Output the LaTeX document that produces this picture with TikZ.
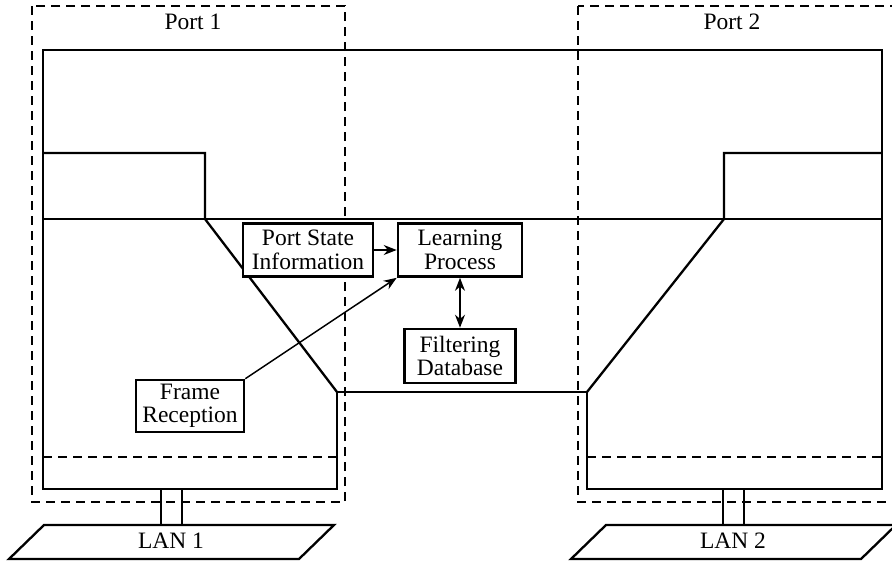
\documentclass[tikz,border=0pt]{standalone}
\usepackage{fontspec}
\setmainfont{Liberation Serif}
\usetikzlibrary{arrows.meta,positioning}

\begin{document}
\begin{tikzpicture}[
    x=1pt, y=-1pt,
    every node/.style={font=\fontsize{23.5}{23.5}\selectfont, align=center},
    block/.style={draw=black, line width=2.6pt, fill=white, minimum height=53pt, inner sep=0pt},
    edge/.style={draw=black, line width=2.3pt},
    thinline/.style={draw=black, line width=1.1pt},
    portbox/.style={draw=black, line width=1.5pt, dash pattern=on 9pt off 6pt},
    msg/.style={->, >={Stealth[length=13pt,width=10pt]}, draw=black, line width=1.5pt}
    ]
    \clip (0,0) rectangle (892,560);

    % port areas
    \draw[portbox] (32,6) rectangle (345,502);
    \draw[portbox] (578,6) rectangle (910,502);
    \node (port1) at (193,22) {Port 1};
    \node (port2) at (732,22) {Port 2};

    % bridge outline
    \draw[edge] (43,50) -- (882,50) -- (882,489) -- (587,489) -- (587,392) -- (337,392) -- (337,489) -- (43,489) -- cycle;
    \draw[edge] (43,153) -- (205,153) -- (205,219) -- (337,392);
    \draw[edge] (882,153) -- (724,153) -- (724,219) -- (587,392);
    \draw[thinline] (43,219) -- (882,219);
    \draw[portbox, line width=1.3pt] (43,457) -- (337,457);
    \draw[portbox, line width=1.3pt] (587,457) -- (882,457);

    % LAN attachments
    \draw[thinline, line width=1.5pt] (161,489) -- (161,525);
    \draw[thinline, line width=1.5pt] (182,489) -- (182,525);
    \draw[thinline, line width=1.5pt] (723,489) -- (723,525);
    \draw[thinline, line width=1.5pt] (744,489) -- (744,525);
    \draw[edge] (44,525) -- (334,525) -- (299,559) -- (9,559) -- cycle;
    \draw[edge] (606,525) -- (896,525) -- (861,559) -- (571,559) -- cycle;
    \node (lan1) at (171,541) {LAN 1};
    \node (lan2) at (733,541) {LAN 2};

    % processes
    \node[block, minimum width=130pt] (state) at (308,250) {Port State\\Information};
    \node[block, minimum width=124pt] (learn) at (460,250) {Learning\\Process};
    \node[block, minimum width=111pt, minimum height=54pt] (fdb) at (460,356) {Filtering\\Database};
    \node[block, minimum width=108pt, minimum height=52pt] (recv) at (190,406) {Frame\\Reception};

    \draw[msg] (state) -- (learn);
    \draw[msg] (recv.north east) -- (learn.south west);
    \draw[msg, <->] (learn) -- (fdb);
\end{tikzpicture}
\end{document}
